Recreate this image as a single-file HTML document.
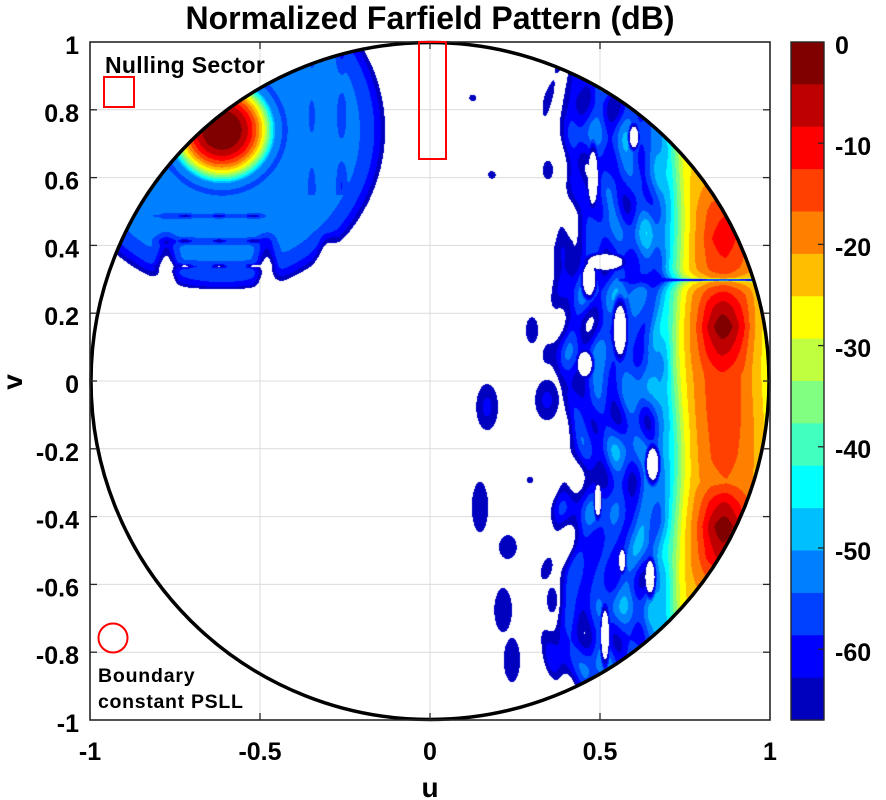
<!DOCTYPE html>
<html><head><meta charset="utf-8">
<style>
html,body{margin:0;padding:0;background:#fff;}
body{width:886px;height:800px;position:relative;overflow:hidden;font-family:"Liberation Sans",Arial,sans-serif;}
#c{position:absolute;left:90px;top:42px;}
svg{position:absolute;left:0;top:0;}
text{font-family:"Liberation Sans",Arial,sans-serif;font-weight:bold;fill:#000;}
</style></head>
<body>
<svg width="886" height="800">
  <g stroke="#dcdcdc" stroke-width="1">
    <line x1="260" y1="42" x2="260" y2="720"/>
    <line x1="430" y1="42" x2="430" y2="720"/>
    <line x1="600" y1="42" x2="600" y2="720"/>
    <line x1="90" y1="109.8" x2="770" y2="109.8"/>
    <line x1="90" y1="177.6" x2="770" y2="177.6"/>
    <line x1="90" y1="245.4" x2="770" y2="245.4"/>
    <line x1="90" y1="313.2" x2="770" y2="313.2"/>
    <line x1="90" y1="381" x2="770" y2="381"/>
    <line x1="90" y1="448.8" x2="770" y2="448.8"/>
    <line x1="90" y1="516.6" x2="770" y2="516.6"/>
    <line x1="90" y1="584.4" x2="770" y2="584.4"/>
    <line x1="90" y1="652.2" x2="770" y2="652.2"/>
  </g>
</svg>
<canvas id="c" width="680" height="678"></canvas>
<svg width="886" height="800">
  <ellipse cx="430" cy="381" rx="339" ry="338.5" fill="none" stroke="#000" stroke-width="3.5"/>
  <rect x="90" y="42" width="680" height="678" fill="none" stroke="#262626" stroke-width="1.6"/>
  <g stroke="#262626" stroke-width="1.3">
    <line x1="260" y1="720" x2="260" y2="713"/><line x1="430" y1="720" x2="430" y2="713"/><line x1="600" y1="720" x2="600" y2="713"/>
    <line x1="260" y1="42" x2="260" y2="49"/><line x1="430" y1="42" x2="430" y2="49"/><line x1="600" y1="42" x2="600" y2="49"/>
    <line x1="90" y1="109.8" x2="97" y2="109.8"/><line x1="90" y1="177.6" x2="97" y2="177.6"/><line x1="90" y1="245.4" x2="97" y2="245.4"/><line x1="90" y1="313.2" x2="97" y2="313.2"/><line x1="90" y1="381" x2="97" y2="381"/><line x1="90" y1="448.8" x2="97" y2="448.8"/><line x1="90" y1="516.6" x2="97" y2="516.6"/><line x1="90" y1="584.4" x2="97" y2="584.4"/><line x1="90" y1="652.2" x2="97" y2="652.2"/>
    <line x1="770" y1="109.8" x2="763" y2="109.8"/><line x1="770" y1="177.6" x2="763" y2="177.6"/><line x1="770" y1="245.4" x2="763" y2="245.4"/><line x1="770" y1="313.2" x2="763" y2="313.2"/><line x1="770" y1="381" x2="763" y2="381"/><line x1="770" y1="448.8" x2="763" y2="448.8"/><line x1="770" y1="516.6" x2="763" y2="516.6"/><line x1="770" y1="584.4" x2="763" y2="584.4"/><line x1="770" y1="652.2" x2="763" y2="652.2"/>
  </g>
  <rect x="419" y="42" width="27" height="117" fill="none" stroke="#ff0000" stroke-width="2"/>
  <rect x="104" y="77" width="30" height="30" fill="none" stroke="#ff0000" stroke-width="2"/>
  <circle cx="113" cy="638" r="14.5" fill="none" stroke="#ff0000" stroke-width="2"/>
  <text x="105" y="73" font-size="23" letter-spacing="0.3">Nulling Sector</text>
  <text x="98" y="682" font-size="19.5" letter-spacing="0.8">Boundary</text>
  <text x="98" y="708" font-size="19.5" letter-spacing="0.7">constant PSLL</text>
  <text x="430" y="29" font-size="32" text-anchor="middle">Normalized Farfield Pattern (dB)</text>
  <g font-size="25" text-anchor="end">
    <text x="79" y="54">1</text>
    <text x="79" y="121.8">0.8</text>
    <text x="79" y="189.6">0.6</text>
    <text x="79" y="257.4">0.4</text>
    <text x="79" y="325.2">0.2</text>
    <text x="79" y="393">0</text>
    <text x="79" y="460.8">-0.2</text>
    <text x="79" y="528.6">-0.4</text>
    <text x="79" y="596.4">-0.6</text>
    <text x="79" y="664.2">-0.8</text>
    <text x="79" y="732">-1</text>
  </g>
  <g font-size="25" text-anchor="middle">
    <text x="90" y="760">-1</text>
    <text x="260" y="760">-0.5</text>
    <text x="430" y="760">0</text>
    <text x="600" y="760">0.5</text>
    <text x="770" y="760">1</text>
  </g>
  <text x="430" y="797" font-size="28" text-anchor="middle">u</text>
  <text transform="translate(22,382) rotate(-90)" font-size="28" text-anchor="middle">v</text>
  <g id="cb"></g>
  <g font-size="25">
    <text x="835" y="54">0</text>
    <text x="835" y="155">-10</text>
    <text x="835" y="256">-20</text>
    <text x="835" y="357">-30</text>
    <text x="835" y="458">-40</text>
    <text x="835" y="560">-50</text>
    <text x="835" y="661">-60</text>
  </g>
</svg>
<script>
(function(){
const cols=[[128,0,0],[191,0,0],[255,0,0],[255,64,0],[255,128,0],[255,191,0],[255,255,0],[191,255,64],[128,255,128],[64,255,191],[0,255,255],[0,191,255],[0,128,255],[0,64,255],[0,0,255],[0,0,191]];
const cb=document.getElementById('cb');
const NS='http://www.w3.org/2000/svg';
const bh=678/16;
for(let i=0;i<16;i++){
  const r=document.createElementNS(NS,'rect');
  r.setAttribute('x',791);r.setAttribute('y',(42+i*bh).toFixed(2));
  r.setAttribute('width',33);r.setAttribute('height',(bh+0.6).toFixed(2));
  const c=cols[i];r.setAttribute('fill','rgb('+c[0]+','+c[1]+','+c[2]+')');
  cb.appendChild(r);
}
const bd=document.createElementNS(NS,'rect');
bd.setAttribute('x',791);bd.setAttribute('y',42);bd.setAttribute('width',33);bd.setAttribute('height',678);
bd.setAttribute('fill','none');bd.setAttribute('stroke','#262626');bd.setAttribute('stroke-width','1.4');
cb.appendChild(bd);
for(let k=1;k<=6;k++){
  const y=42+k*10/67*678;
  const l=document.createElementNS(NS,'line');
  l.setAttribute('x1',824);l.setAttribute('x2',818);l.setAttribute('y1',y);l.setAttribute('y2',y);
  l.setAttribute('stroke','#262626');l.setAttribute('stroke-width','1.3');cb.appendChild(l);
}

function L(p,x){if(x<=p[0][0])return p[0][1];for(let i=1;i<p.length;i++){if(x<=p[i][0]){const a=p[i-1],b=p[i];return a[1]+(b[1]-a[1])*(x-a[0])/(b[0]-a[0]);}}return p[p.length-1][1];}
const BP=[[0.30,-80],[0.36,-70],[0.42,-61.5],[0.5,-58],[0.6,-56.5],[0.655,-54.5],[0.68,-51],[0.70,-46],[0.745,-28],[0.775,-22],[0.82,-18],[0.865,-17],[0.93,-19.5],[1.0,-28]];
const RV=[[-1,-40],[-0.72,-30],[-0.6,-18],[-0.52,-7],[-0.43,-1],[-0.36,-8],[-0.3,-17],[-0.22,-15],[-0.1,-13.5],[0.02,-13],[0.1,-6],[0.16,-1],[0.22,-6],[0.27,-13],[0.33,-14],[0.42,-10],[0.5,-13],[0.58,-20],[0.66,-30],[1,-40]];
const SP=[[0.16,-50.5],[0.3,-52],[0.4,-54],[0.44,-57],[0.465,-62],[0.48,-67],[0.52,-85]];
const BL=[
[0.126,0.835,0.010,0.010,-64],
[0.182,0.608,0.011,0.011,-64],
[0.347,0.622,0.015,0.027,-63],
[0.300,0.150,0.018,0.038,-63],
[0.168,-0.077,0.032,0.068,-62],
[0.344,-0.056,0.035,0.06,-62],
[0.147,-0.372,0.024,0.074,-63],
[0.229,-0.49,0.026,0.035,-63],
[0.359,-0.646,0.015,0.036,-63],
[0.215,-0.676,0.026,0.065,-63],
[0.241,-0.823,0.024,0.065,-63],
[0.294,-0.292,0.009,0.009,-64]
];
const HL=[
[0.515,0.351,0.05,0.022],
[0.468,0.300,0.018,0.045],
[0.559,0.150,0.018,0.07],
[0.479,0.600,0.014,0.075],
[0.655,-0.245,0.016,0.045],
[0.494,-0.351,0.009,0.045],
[0.647,-0.578,0.013,0.045],
[0.565,-0.530,0.009,0.03],
[0.515,-0.75,0.011,0.07],
[0.455,0.05,0.02,0.035],
[0.60,0.72,0.012,0.03]
];
function per(x,p){const t=x/p;return (t-Math.round(t))*p;}
function F(u,v){
  const ew=u<0.55?1:(u<0.65?(0.65-u)/0.1:0);
  const us=u+0.008*Math.sin(9*v+0.5)+ew*(0.02*Math.sin(7*v+0.5)+0.014*Math.sin(17*v+2)+0.008*Math.sin(31*v+1));
  let B=L(BP,us);
  let w=u<0.64?1:(u<0.72?(0.72-u)/0.08:0);
  let N=3.2*Math.sin(75*u+2.5*Math.sin(9*v+1.3))+2.6*Math.sin(28*v+12*u+0.7)+2.2*Math.cos(47*u-15*v+2.1)+1.6*Math.sin(40*v-5*u);
  let r=B+w*N;
  let g=Math.exp(-Math.pow((u-0.865)/0.07,2));
  r+=(L(RV,v)+17)*g;
  if(u>0.55){
    const dv=v-0.298,t=Math.min(1,(u-0.55)/0.08);
    const nr=r-t*(45*Math.exp(-Math.pow(dv/0.003,2))+6*Math.exp(-Math.pow(dv/0.02,2)));
    r=Math.max(nr,Math.min(r,-61));
  }
  for(const h of HL){
    const a=(u-h[0])/h[2],c=(v-h[1])/h[3];
    const q=a*a+c*c;
    if(q<3){r=Math.min(r,-67.5+10*(q-1));}
  }
  let best=r;
  for(const b of BL){
    const a=(u-b[0])/b[2],c=(v-b[1])/b[3];
    const q=a*a+c*c;
    if(q<2){const val=b[4]-(67+b[4])*q;if(val>best)best=val;}
  }
  const du=u+0.612,dv=v-0.74,d=Math.sqrt(du*du+dv*dv);
  if(d<0.6){
    const beam=-4.2*Math.pow(d/0.058,2.5);
    let s=L(SP,d);
    s-=7*Math.exp(-Math.pow((d-0.185)/0.01,2));
    if(v<0.52 && u<-0.45 && u>-0.82){
      const hd=per(v-0.339,0.074);
      const f=(u<-0.5?1:(-0.45-u)/0.05)*(u>-0.78?1:(u+0.82)/0.04);
      const dep=Math.max(0,12*Math.cos(2*Math.PI*(u+0.62)/0.1)-2);
      s-=f*(4*Math.exp(-Math.pow(hd/0.012,2))+dep*Math.exp(-Math.pow(hd/0.004,2)));
    }
    if(u>-0.40 && u<-0.2 && v>0.55){
      const vd=per(u+0.435,0.087);
      s-=5*Math.exp(-Math.pow(vd/0.012,2))*(0.5+0.5*Math.cos(2*Math.PI*(v-0.78)/0.2));
    }
    let sc=0;for(const uk of [-0.775,-0.48,-0.30])sc=Math.max(sc,Math.exp(-Math.pow((u-uk)/0.025,2)));
    const wv=v<0.36?1:(v<0.45?(0.45-v)/0.09:0);
    s-=14*sc*wv;
    best=Math.max(best,beam,s);
  }
  return best;
}
const cv=document.getElementById('c');
const ctx=cv.getContext('2d');
const W=680,H=678;
const img=ctx.createImageData(W,H);
const D=img.data;
for(let py=0;py<H;py++){
  const v=(339-(py+0.5))/339;
  for(let px=0;px<W;px++){
    const u=(px+0.5-340)/340;
    if(u*u+v*v>1)continue;
    const val=F(u,v);
    if(val<-67)continue;
    let bi=Math.floor(-val/4.1875);if(bi<0)bi=0;if(bi>15)bi=15;
    const c=cols[bi],o=(py*W+px)*4;
    D[o]=c[0];D[o+1]=c[1];D[o+2]=c[2];D[o+3]=255;
  }
}
ctx.putImageData(img,0,0);
})();
</script>
</body></html>
